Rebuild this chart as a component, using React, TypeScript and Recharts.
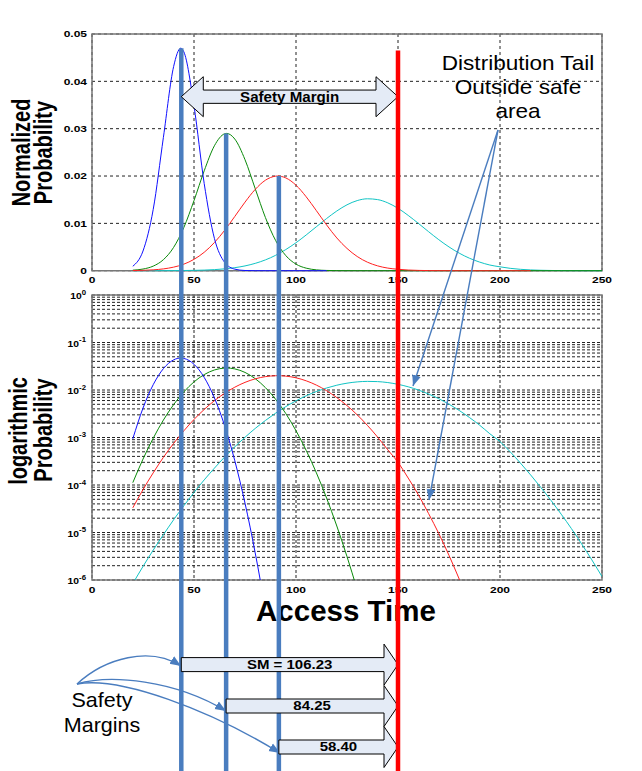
import React from 'react';
import { LineChart, Line, XAxis, YAxis, CartesianGrid, ReferenceArea, ReferenceLine } from 'recharts';

const FONT = '"Liberation Sans", Arial, Helvetica, sans-serif';

// ---------- data ----------
const BLUE_X = [20, 25, 30, 35, 40, 43.5, 45, 50, 55, 60, 65, 70, 75, 80, 85, 90, 95, 100, 105, 110, 115];
const BLUE_Y = [9.4e-4, 4.16e-3, 0.01293, 0.02817, 0.0431, 0.047, 0.04625, 0.03483, 0.01842, 6.83e-3, 1.78e-3, 3.24e-4, 4.15e-5, 3.73e-6, 2.36e-7, 1.04e-8, 3.2e-10, 7e-12, 1e-13, 1e-15, 1e-17];

const GREEN_X = [20, 25, 30, 35, 40, 45, 50, 55, 60, 65, 66, 70, 75, 80, 85, 90, 95, 100, 105, 110, 115, 120, 125, 130, 135, 140, 145, 150, 155, 170, 190, 210, 230, 250];
const GREEN_Y = [1.12e-4, 3.51e-4, 9.65e-4, 2.33e-3, 4.92e-3, 9.11e-3, 0.01481, 0.0211, 0.02639, 0.02892, 0.029, 0.02781, 0.02345, 0.01734, 0.01124, 6.39e-3, 3.19e-3, 1.39e-3, 5.35e-4, 1.8e-4, 5.3e-5, 1.37e-5, 3.11e-6, 6.2e-7, 1.08e-7, 1.65e-8, 2.2e-9, 2.6e-10, 3e-11, 1e-14, 1e-18, 1e-22, 1e-26, 1e-30];

const RED_X = [20, 25, 30, 35, 40, 45, 50, 55, 60, 65, 70, 75, 80, 85, 90, 91, 95, 100, 105, 110, 115, 120, 125, 130, 135, 140, 145, 150, 155, 160, 165, 170, 175, 180, 185, 190, 195, 200, 205, 210, 215];
const RED_Y = [3.3e-5, 8.0e-5, 1.8e-4, 3.82e-4, 7.5e-4, 1.38e-3, 2.4e-3, 3.89e-3, 5.95e-3, 8.52e-3, 0.01146, 0.01448, 0.01717, 0.01911, 0.01997, 0.02, 0.0196, 0.01806, 0.01561, 0.01268, 9.67e-3, 6.92e-3, 4.7e-3, 3.0e-3, 1.8e-3, 1.02e-3, 5.5e-4, 3.0e-4, 1.4e-4, 6.2e-5, 2.5e-5, 9.5e-6, 3.3e-6, 1.05e-6, 3.2e-7, 9e-8, 2.4e-8, 6.1e-9, 1.5e-9, 3.5e-10, 7.4e-11];

const CYAN_X = [20, 25, 30, 35, 40, 45, 50, 55, 60, 65, 70, 75, 80, 85, 90, 95, 100, 105, 110, 115, 120, 125, 130, 135, 140, 145, 150, 155, 160, 165, 170, 175, 180, 185, 190, 195, 200, 205, 210, 215, 220, 225, 230, 235, 240, 245, 250];
const CYAN_Y = [8.4e-7, 1.93e-6, 4.25e-6, 9.0e-6, 1.85e-5, 3.65e-5, 6.96e-5, 1.28e-4, 2.26e-4, 3.87e-4, 6.37e-4, 1.01e-3, 1.55e-3, 2.28e-3, 3.25e-3, 4.47e-3, 5.91e-3, 7.55e-3, 9.29e-3, 0.01102, 0.01261, 0.01392, 0.01481, 0.01519, 0.01502, 0.01433, 0.01318, 0.01168, 9.99e-3, 8.24e-3, 6.55e-3, 5.02e-3, 3.71e-3, 2.64e-3, 1.82e-3, 1.2e-3, 8.2e-4, 5.0e-4, 2.9e-4, 1.63e-4, 8.9e-5, 4.74e-5, 2.43e-5, 1.21e-5, 5.77e-6, 2.66e-6, 1.18e-6];

const X_TICKS = [0, 50, 100, 150, 200, 250];
const LIN_TICKS = [0, 0.01, 0.02, 0.03, 0.04, 0.05];
const LOG_DECADES = [-6, -5, -4, -3, -2, -1, 0];
const LOG_MULTIPLIERS = [1, 2, 3, 4, 5, 6, 7, 8, 9];

const LIMIT = 150;
const SAFETY_MARGINS = [106.23, 84.25, 58.4];
const MARGIN_LABELS = ['SM = 106.23', '84.25', '58.40'];
const MARGIN_PEAKS = [0.047, 0.029, 0.02];
const LIMIT_TOP = 0.0465;

// ---------- layout ----------
const W = 642;
const H = 771;
const PLOT_LEFT = 92;
const PLOT_RIGHT = 602;
const Y_AXIS_W = 60;
const TOP_H = 300;
const TOP_PLOT_TOP = 34;
const TOP_AXIS_H = 29.3;
const LOG_TOP = 270;
const LOG_H = 340;
const LOG_PLOT_TOP = 25;
const LOG_AXIS_H = 30;

const TOP_PLOT_BOTTOM = TOP_H - TOP_AXIS_H;
const PX_PER_UNIT = (TOP_PLOT_BOTTOM - TOP_PLOT_TOP) / 0.05;
const V_MAX = TOP_PLOT_BOTTOM / PX_PER_UNIT;
const V_MIN = -(H - TOP_PLOT_BOTTOM) / PX_PER_UNIT;

const LOG_TICKS = LOG_DECADES.flatMap((d) =>
  d === 0 ? [1] : LOG_MULTIPLIERS.map((m) => parseFloat((m * Math.pow(10, d)).toPrecision(6)))
);

const zip = (xs: number[], ys: number[]) => xs.map((x, i) => ({ x, p: ys[i] }));
const SERIES = [
  { name: 'cyan', color: '#10c4c4', data: zip(CYAN_X, CYAN_Y) },
  { name: 'green', color: '#0a8a0a', data: zip(GREEN_X, GREEN_Y) },
  { name: 'red', color: '#ff2020', data: zip(RED_X, RED_Y) },
  { name: 'blue', color: '#1010ff', data: zip(BLUE_X, BLUE_Y) },
];
const MARGIN_ROWS = SAFETY_MARGINS.map((sm, i) => ({ x: LIMIT - sm, peak: MARGIN_PEAKS[i], label: MARGIN_LABELS[i] }));

const ARROW_CENTERS_PX = [664.6, 706, 747];
const TOP_ARROW_CENTER_PX = 96.7;

const BLUE_MARK = '#4a7dbf';
const TICK_FS = 9.6;
const TICK_SX = 1.25;

const XTick = (props: any) => {
  const { x, y, payload } = props;
  return (
    <text transform={`translate(${x},${y}) scale(${TICK_SX},1)`} textAnchor="middle" dy="0.71em"
      fontFamily={FONT} fontWeight="bold" fontSize={TICK_FS} fill="#000">{String(payload.value)}</text>
  );
};

const LinTick = (props: any) => {
  const { x, y, payload } = props;
  const v = payload.value as number;
  return (
    <text transform={`translate(${x},${y}) scale(${TICK_SX},1)`} textAnchor="end" dy="0.36em"
      fontFamily={FONT} fontWeight="bold" fontSize={TICK_FS} fill="#000">{v === 0 ? '0' : v.toFixed(2)}</text>
  );
};

const LogTick = (props: any) => {
  const { x, y, payload } = props;
  const v = payload.value;
  const e = Math.round(Math.log10(v));
  if (Math.abs(v / Math.pow(10, e) - 1) > 1e-6) return <g />;
  return (
    <text transform={`translate(${x},${y}) scale(1.2,1)`} y={4.2} textAnchor="end" fontFamily={FONT}
      fontWeight="bold" fontSize={8.6} fill="#000">
      <tspan>10</tspan>
      <tspan dy={-4.5} fontSize={6.5}>{String(e)}</tspan>
    </text>
  );
};

function TopChart() {
  return (
    <LineChart width={W} height={TOP_H} margin={{ top: TOP_PLOT_TOP, right: W - PLOT_RIGHT, bottom: 0, left: PLOT_LEFT - Y_AXIS_W }}>
      <CartesianGrid stroke="#222" strokeDasharray="3 3" />
      <XAxis type="number" dataKey="x" domain={[0, 250]} ticks={X_TICKS} interval={0} height={TOP_AXIS_H}
        tickSize={0} tickMargin={5} axisLine={false} tickLine={false} tick={<XTick />} />
      <YAxis type="number" domain={[0, 0.05]} ticks={LIN_TICKS} interval={0} width={Y_AXIS_W} tickSize={0} tickMargin={5}
        axisLine={false} tickLine={false} tick={<LinTick />} />
      {SERIES.map((s) => (
        <Line key={s.name} data={s.data} dataKey="p" type="monotone" stroke={s.color} strokeWidth={1}
          dot={false} activeDot={false} isAnimationActive={false} />
      ))}
      <ReferenceArea x1={0} x2={250} y1={0} y2={0.05} fill="none" stroke="#777" strokeWidth={1.5} />
    </LineChart>
  );
}

function LogChart() {
  return (
    <LineChart width={W} height={LOG_H} margin={{ top: LOG_PLOT_TOP, right: W - PLOT_RIGHT, bottom: 0, left: PLOT_LEFT - Y_AXIS_W }}>
      <CartesianGrid stroke="#222" strokeDasharray="3 2" />
      <XAxis type="number" dataKey="x" domain={[0, 250]} ticks={X_TICKS} interval={0} height={LOG_AXIS_H}
        tickSize={0} tickMargin={6} axisLine={false} tickLine={false} tick={<XTick />} allowDataOverflow />
      <YAxis type="number" scale="log" domain={[1e-6, 1]} ticks={LOG_TICKS} interval={0} width={Y_AXIS_W} tickSize={0}
        tickMargin={6} axisLine={false} tickLine={false} tick={<LogTick />} allowDataOverflow />
      {SERIES.map((s) => (
        <Line key={s.name} data={s.data} dataKey="p" type="monotone" stroke={s.color} strokeWidth={1}
          dot={false} activeDot={false} isAnimationActive={false} />
      ))}
      <ReferenceArea x1={0} x2={250} y1={1e-6} y2={1} fill="none" stroke="#777" strokeWidth={1.5} />
    </LineChart>
  );
}

function Overlay({ children }: { children: React.ReactNode }) {
  return (
    <div style={{ position: 'absolute', left: 0, top: 0 }}>
      <LineChart width={W} height={H} data={MARGIN_ROWS} margin={{ top: 0, right: W - PLOT_RIGHT, bottom: 0, left: PLOT_LEFT }}>
        <XAxis type="number" dataKey="x" domain={[0, 250]} allowDataOverflow hide height={0} />
        <YAxis type="number" domain={[V_MIN, V_MAX]} allowDataOverflow hide width={0} />
        <YAxis yAxisId="px" type="number" domain={[0, H]} reversed allowDataOverflow hide width={0} />
        {children}
      </LineChart>
    </div>
  );
}

const makeArrow = (label: string, bodyH: number, headL: number, fontSize: number, sx: number, double: boolean) => (p: any) => {
  const { x, y, width, height } = p;
  const cy = y + height / 2;
  const x2 = x + width;
  const t = cy - bodyH / 2;
  const b = cy + bodyH / 2;
  const yb = y + height;
  const pts = double
    ? [[x, cy], [x + headL, y], [x + headL, t], [x2 - headL, t], [x2 - headL, y], [x2, cy], [x2 - headL, yb], [x2 - headL, b], [x + headL, b], [x + headL, yb]]
    : [[x, t], [x2 - headL, t], [x2 - headL, y], [x2, cy], [x2 - headL, yb], [x2 - headL, b], [x, b]];
  return (
    <g>
      <polygon points={pts.map((q) => q.join(',')).join(' ')} fill="#e4ebf6" stroke="#000" strokeWidth={1} />
      <text transform={`translate(${x + width / 2},${cy}) scale(${sx},1)`} dy="0.36em" textAnchor="middle"
        fontSize={fontSize} fontWeight="bold" fontFamily={FONT} fill="#000">{label}</text>
    </g>
  );
};

export default function App() {
  return (
    <div style={{ position: 'absolute', left: 0, top: 0, width: W, height: H, background: '#fff', fontFamily: FONT, overflow: 'hidden' }}>
      <div style={{ position: 'absolute', left: 0, top: 0 }}><TopChart /></div>
      <div style={{ position: 'absolute', left: 0, top: LOG_TOP }}><LogChart /></div>

      <svg style={{ position: 'absolute', left: 0, top: 0 }} width={W} height={H} fontFamily={FONT}>
        <defs>
          <marker id="ah" viewBox="0 0 10 10" refX="10" refY="5" markerWidth="11" markerHeight="11"
            markerUnits="userSpaceOnUse" orient="auto">
            <path d="M0,1 L10,5 L0,9 z" fill={BLUE_MARK} />
          </marker>
        </defs>
        <g fontWeight="bold" fontSize={20} fill="#000" textAnchor="middle">
          <text transform="translate(30,152.5) rotate(-90) scale(1,1.25)">Normalized</text>
          <text transform="translate(51.5,152.5) rotate(-90) scale(1,1.25)">Probability</text>
          <text transform="translate(26.5,431) rotate(-90) scale(1,1.25)">logarithmic</text>
          <text transform="translate(51.5,430) rotate(-90) scale(1,1.25)">Probability</text>
        </g>
        <text x={346} y={621} textAnchor="middle" fontSize={29.5} fontWeight="bold" fill="#000">Access Time</text>
        <g fontSize={20.5} fill="#000" textAnchor="middle">
          <text transform="translate(518,70) scale(1.1,1)">Distribution Tail</text>
          <text transform="translate(518,94) scale(1.1,1)">Outside safe</text>
          <text transform="translate(518,117.5) scale(1.1,1)">area</text>
          <text transform="translate(102,707) scale(1.05,1)">Safety</text>
          <text transform="translate(102,731.5) scale(1.05,1)">Margins</text>
        </g>
        <g stroke={BLUE_MARK} strokeWidth={1.4} fill="none" markerEnd="url(#ah)">
          <line x1={498} y1={130} x2={413} y2={386} />
          <line x1={498} y1={130} x2={429} y2={500} />
          <path d="M77,684 C105,658 150,646 181,666" />
          <path d="M77,684 C110,674 175,680 226,711" />
          <path d="M77,684 C120,676 210,710 280,753" />
        </g>
      </svg>

      <Overlay>
        {MARGIN_ROWS.map((m) => (
          <ReferenceLine key={m.label} segment={[{ x: m.x, y: m.peak }, { x: m.x, y: V_MIN }]}
            stroke={BLUE_MARK} strokeWidth={4.5} ifOverflow="visible" />
        ))}
      </Overlay>
      <Overlay>
        <ReferenceArea yAxisId="px" x1={MARGIN_ROWS[0].x} x2={LIMIT} y1={TOP_ARROW_CENTER_PX - 20}
          y2={TOP_ARROW_CENTER_PX + 20} ifOverflow="visible" shape={makeArrow('Safety Margin', 13.3, 22, 14, 1.08, true)} />
        {MARGIN_ROWS.map((m, i) => (
          <ReferenceArea key={m.label} yAxisId="px" x1={m.x} x2={LIMIT} y1={ARROW_CENTERS_PX[i] - 20.5}
            y2={ARROW_CENTERS_PX[i] + 20.5} ifOverflow="visible" shape={makeArrow(m.label, 14, 14, 12, 1.25, false)} />
        ))}
      </Overlay>
      <Overlay>
        <ReferenceLine segment={[{ x: LIMIT, y: LIMIT_TOP }, { x: LIMIT, y: V_MIN }]} stroke="#ff0000"
          strokeWidth={4.5} ifOverflow="visible" />
      </Overlay>
    </div>
  );
}
